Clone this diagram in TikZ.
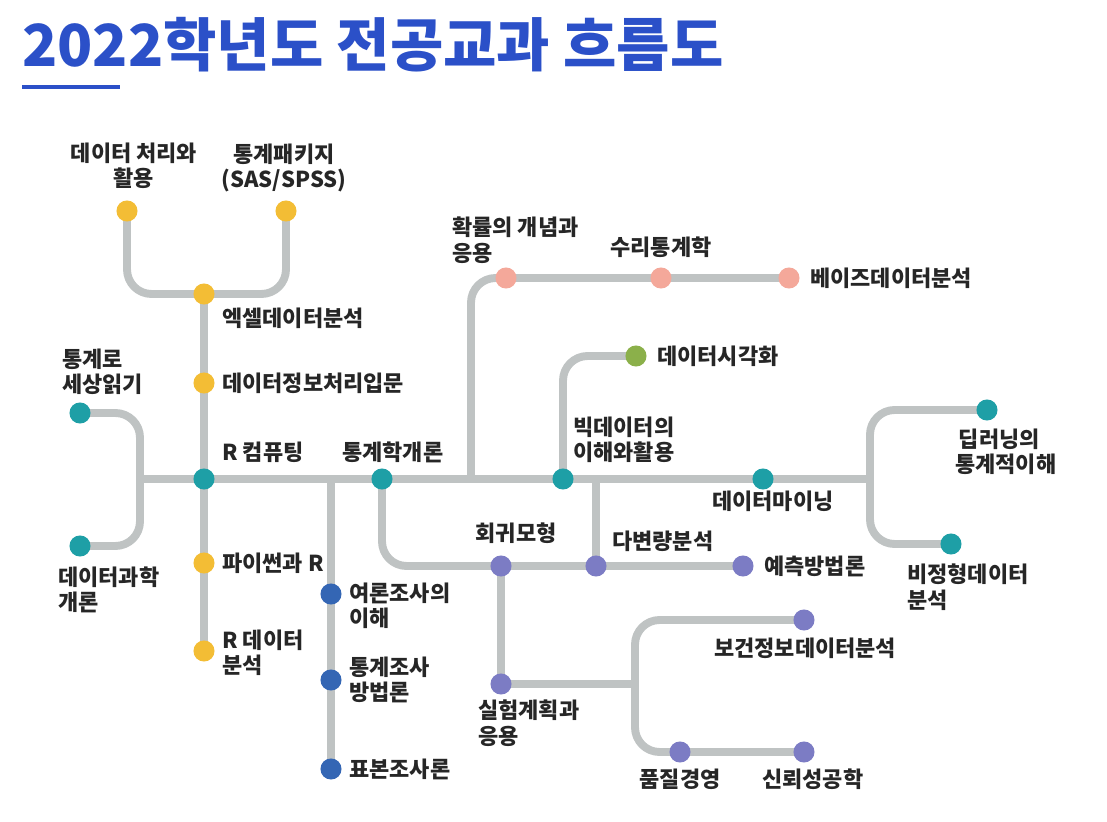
\documentclass[tikz,border=0pt]{standalone}
\usepackage{fontspec}
\setmainfont{Noto Sans CJK KR}
\definecolor{trackgray}{HTML}{BFC3C3}
\definecolor{cyellow}{HTML}{F3BD35}
\definecolor{cteal}{HTML}{1E9FA6}
\definecolor{cpink}{HTML}{F4A89A}
\definecolor{cgreen}{HTML}{8BB04A}
\definecolor{cpurple}{HTML}{7C7CC4}
\definecolor{cblue}{HTML}{3466B4}
\definecolor{ctitle}{HTML}{2B50C8}
\tikzset{
  track/.style={draw=trackgray,line width=4.5pt,rounded corners=14pt,line cap=round},
  dot/.style={circle,fill=#1,minimum size=12pt,inner sep=0pt},
  lbl/.style={font=\fontsize{12.5}{14.5}\selectfont\bfseries,text=black!85,inner sep=0pt,align=left},
  lblc/.style={lbl,align=center}
}
\begin{document}
\begin{tikzpicture}[x=0.02cm,y=-0.02cm]
\useasboundingbox (0,0) rectangle (1107,822);
% title
\node[anchor=west,inner sep=0pt,text=ctitle,font=\fontsize{33}{36}\selectfont\bfseries] (title) at (22,45) {2022학년도 전공교과 흐름도};
\draw[ctitle,line width=2.2pt] (22,87) -- (120,87);
% tracks
\draw[track] (127,211) -- (127,294) -- (286,294) -- (286,211);
\draw[track] (204,294) -- (204,651);
\draw[track] (80,413) -- (140,413) -- (140,546) -- (80,546);
\draw[track] (140,479) -- (870,479);
\draw[track] (331,479) -- (331,769);
\draw[track] (382,479) -- (382,566) -- (743,566);
\draw[track] (596,479) -- (596,566);
\draw[track] (471,479) -- (471,278) -- (789,278);
\draw[track] (563,479) -- (563,356) -- (636,356);
\draw[track] (987,410) -- (870,410) -- (870,544) -- (951,544);
\draw[track] (501,566) -- (501,684);
\draw[track] (501,684) -- (635,684);
\draw[track] (804,620) -- (635,620) -- (635,752) -- (804,752);
% dots
\node[dot=cyellow] (proc) at (127,211) {};
\node[dot=cyellow] (pkg) at (286,211) {};
\node[dot=cyellow] (excel) at (204,294) {};
\node[dot=cyellow] (info) at (204,383) {};
\node[dot=cteal] (rcomp) at (204,479) {};
\node[dot=cyellow] (python) at (204,563) {};
\node[dot=cyellow] (rdata) at (204,651) {};
\node[dot=cteal] (world) at (80,413) {};
\node[dot=cteal] (dsci) at (80,546) {};
\node[dot=cteal] (intro) at (382,479) {};
\node[dot=cteal] (bigdata) at (563,479) {};
\node[dot=cteal] (mining) at (763,479) {};
\node[dot=cteal] (deep) at (987,410) {};
\node[dot=cteal] (unstr) at (951,544) {};
\node[dot=cpink] (prob) at (506,278) {};
\node[dot=cpink] (mstat) at (661,278) {};
\node[dot=cpink] (bayes) at (789,278) {};
\node[dot=cgreen] (vis) at (636,356) {};
\node[dot=cpurple] (regr) at (501,566) {};
\node[dot=cpurple] (multi) at (596,566) {};
\node[dot=cpurple] (pred) at (743,566) {};
\node[dot=cpurple] (exper) at (501,684) {};
\node[dot=cpurple] (health) at (804,620) {};
\node[dot=cpurple] (quality) at (680,752) {};
\node[dot=cpurple] (reliab) at (804,752) {};
\node[dot=cblue] (poll) at (331,594) {};
\node[dot=cblue] (survey) at (331,680) {};
\node[dot=cblue] (sample) at (331,769) {};
% labels
\node[lblc] (proc-l) at (134,166) {데이터 처리와\\활용};
\node[lblc] (pkg-l) at (284,168) {통계패키지\\(SAS/SPSS)};
\node[lbl,anchor=west] (excel-l) at (222,318) {엑셀데이터분석};
\node[lbl,anchor=west] (info-l) at (222,383) {데이터정보처리입문};
\node[lbl,anchor=west] (rcomp-l) at (222,452) {R 컴퓨팅};
\node[lbl,anchor=west] (world-l) at (62,372) {통계로\\세상읽기};
\node[lbl,anchor=west] (dsci-l) at (58,590) {데이터과학\\개론};
\node[lbl,anchor=west] (python-l) at (222,563) {파이썬과 R};
\node[lbl,anchor=west] (rdata-l) at (222,653) {R 데이터\\분석};
\node[lbl,anchor=west] (intro-l) at (342,452) {통계학개론};
\node[lbl,anchor=west] (prob-l) at (452,240) {확률의 개념과\\응용};
\node[lblc] (mstat-l) at (661,247) {수리통계학};
\node[lbl,anchor=west] (bayes-l) at (810,278) {베이즈데이터분석};
\node[lbl,anchor=west] (vis-l) at (657,356) {데이터시각화};
\node[lbl,anchor=west] (bigdata-l) at (573,440) {빅데이터의\\이해와활용};
\node[lbl,anchor=west] (mining-l) at (712,501) {데이터마이닝};
\node[lbl,anchor=west] (deep-l) at (955,452) {\hspace{2pt}딥러닝의\\통계적이해};
\node[lbl,anchor=west] (unstr-l) at (907,587) {비정형데이터\\분석};
\node[lblc] (regr-l) at (516,533) {회귀모형};
\node[lbl,anchor=west] (multi-l) at (612,541) {다변량분석};
\node[lbl,anchor=west] (pred-l) at (764,566) {예측방법론};
\node[lbl,anchor=west] (poll-l) at (349,606) {여론조사의\\이해};
\node[lbl,anchor=west] (survey-l) at (349,680) {통계조사\\방법론};
\node[lbl,anchor=west] (sample-l) at (349,769) {표본조사론};
\node[lbl,anchor=west] (exper-l) at (478,723) {실험계획과\\응용};
\node[lbl,anchor=west] (health-l) at (714,648) {보건정보데이터분석};
\node[lblc] (quality-l) at (680,779) {품질경영};
\node[lbl,anchor=west] (reliab-l) at (762,779) {신뢰성공학};
\end{tikzpicture}
\end{document}
